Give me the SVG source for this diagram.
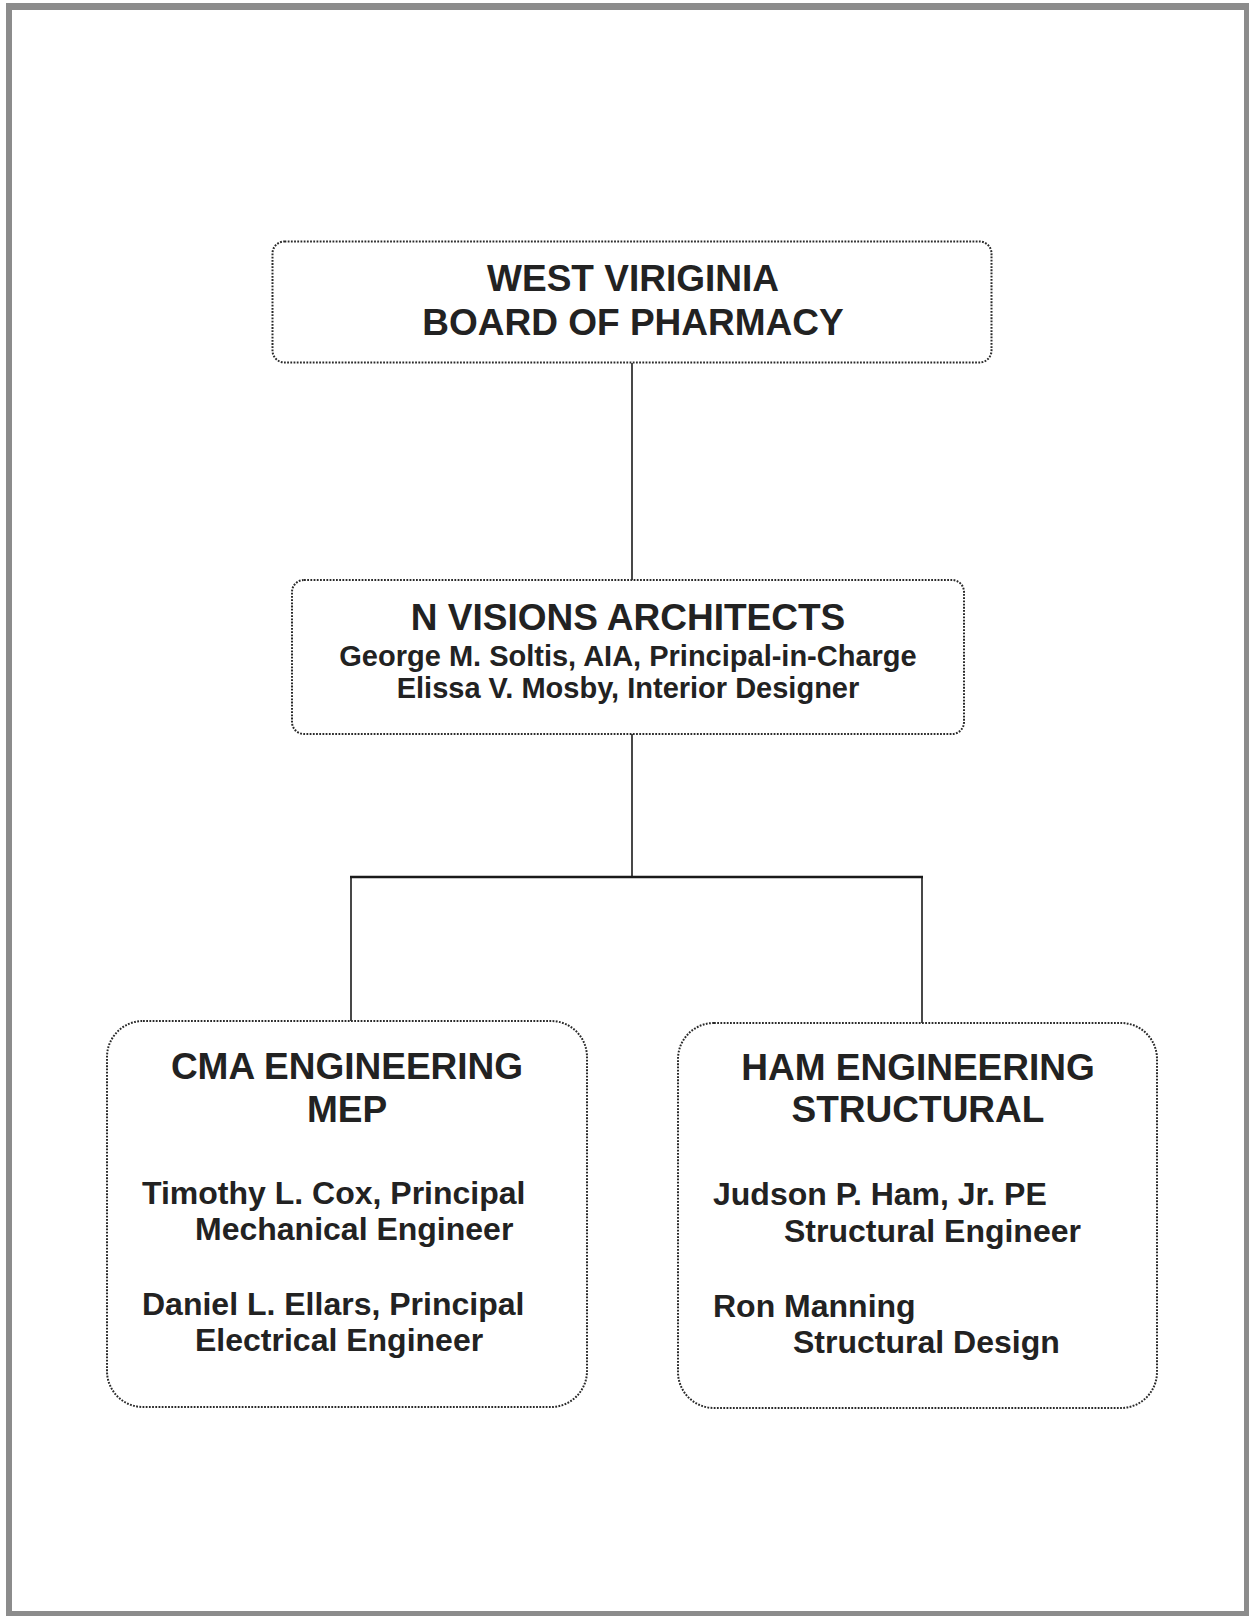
<svg xmlns="http://www.w3.org/2000/svg" width="1249" height="1616" viewBox="0 0 1249 1616">
<style>
  .box { fill: #ffffff; stroke: #2a2a2a; stroke-width: 2; stroke-dasharray: 1.8 1.4; }
  .t { font-family: "Liberation Sans", Arial, sans-serif; font-weight: bold; fill: #222222; }
  .title { font-size: 37px; }
  .sub { font-size: 29px; }
  .name { font-size: 32px; }
  .c { text-anchor: middle; }
  .conn { stroke: #1a1a1a; fill: none; }
  .frame { fill: #8c8c8c; }
</style>
<rect x="0" y="0" width="1249" height="1616" fill="#ffffff"/>
<g id="frame">
  <rect class="frame" x="7" y="3" width="1242" height="7"/>
  <rect class="frame" x="6" y="3" width="6" height="1613"/>
  <rect class="frame" x="6" y="1611" width="1243" height="5"/>
  <rect class="frame" x="1244" y="3" width="5" height="1613"/>
</g>
<g id="connectors">
  <line class="conn" stroke-width="1.6" x1="632" y1="363" x2="632" y2="580"/>
  <line class="conn" stroke-width="1.6" x1="632" y1="734" x2="632" y2="877"/>
  <line class="conn" stroke-width="2.4" x1="350" y1="877" x2="923" y2="877"/>
  <line class="conn" stroke-width="1.6" x1="351" y1="877" x2="351" y2="1021"/>
  <line class="conn" stroke-width="1.6" x1="922" y1="877" x2="922" y2="1023"/>
</g>
<g id="node-wv-board">
  <rect class="box" x="272.5" y="241.5" width="719" height="121" rx="12" ry="12"/>
  <text class="t title c" x="633" y="291">WEST VIRIGINIA</text>
  <text class="t title c" x="633" y="335">BOARD OF PHARMACY</text>
</g>
<g id="node-nvisions">
  <rect class="box" x="292" y="580" width="672" height="154" rx="12" ry="12"/>
  <text class="t title c" x="628" y="630">N VISIONS ARCHITECTS</text>
  <text class="t sub c" x="628" y="666">George M. Soltis, AIA, Principal-in-Charge</text>
  <text class="t sub c" x="628" y="698">Elissa V. Mosby, Interior Designer</text>
</g>
<g id="node-cma">
  <rect class="box" x="107" y="1021" width="480" height="386" rx="36" ry="36"/>
  <text class="t title c" x="347" y="1079">CMA ENGINEERING</text>
  <text class="t title c" x="347" y="1122">MEP</text>
  <text class="t name" x="142" y="1204">Timothy L. Cox, Principal</text>
  <text class="t name" x="195" y="1240">Mechanical Engineer</text>
  <text class="t name" x="142" y="1315">Daniel L. Ellars, Principal</text>
  <text class="t name" x="195" y="1351">Electrical Engineer</text>
</g>
<g id="node-ham">
  <rect class="box" x="678" y="1023" width="479" height="385" rx="36" ry="36"/>
  <text class="t title c" x="918" y="1080">HAM ENGINEERING</text>
  <text class="t title c" x="918" y="1122">STRUCTURAL</text>
  <text class="t name" x="713" y="1205">Judson P. Ham, Jr. PE</text>
  <text class="t name" x="784" y="1242">Structural Engineer</text>
  <text class="t name" x="713" y="1317">Ron Manning</text>
  <text class="t name" x="793" y="1353">Structural Design</text>
</g>
</svg>
